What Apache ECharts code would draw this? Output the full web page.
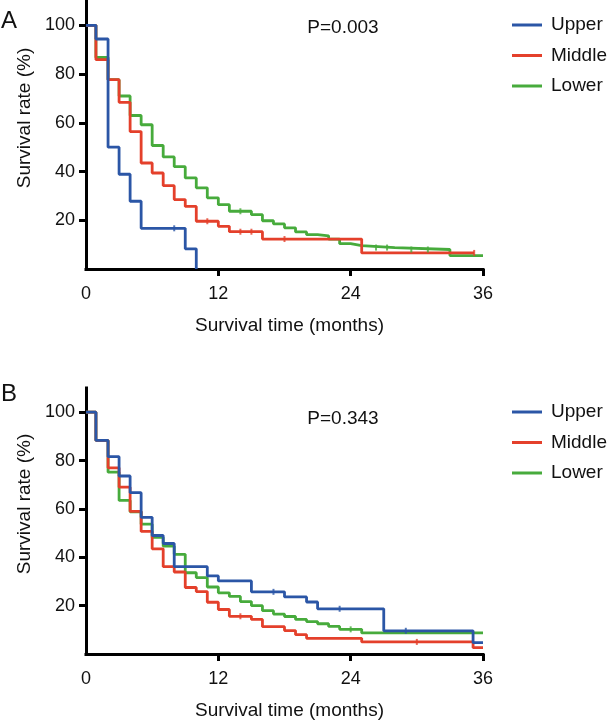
<!DOCTYPE html>
<html>
<head>
<meta charset="utf-8">
<script src="https://cdn.jsdelivr.net/npm/echarts@6/dist/echarts.min.js"></script>
<style>html,body{margin:0;padding:0;background:#fff;}#c{width:608px;height:725px;}</style>
</head>
<body>
<div id="c"></div>
<script>
// ---------- Data ----------
const groups = ['Upper', 'Middle', 'Lower'];
const colors = ['#2b56a6', '#e4402b', '#47ab3c'];
const xTicks = [12, 24, 36];
const xLabels = [0, 12, 24, 36];
const yTicks = [20, 40, 60, 80, 100];

// Panel A (time in months, survival %)
const aUpperT  = [0, 0.9, 2, 3, 4, 5, 9, 10];
const aUpperS  = [100, 94.4, 50, 38.9, 27.8, 16.7, 8.3, 0];
const aMiddleT = [0, 0.9, 2, 3, 4, 5, 6, 7, 8, 9, 10, 12, 13, 16, 25, 35.2];
const aMiddleS = [100, 85.9, 77.7, 68.4, 56.4, 43.5, 39.4, 34.2, 28.5, 25.7, 19.6, 17.5, 15.3, 12.3, 6.6, 6.6];
const aLowerT  = [0, 0.9, 2, 3, 4, 5, 6, 7, 8, 9, 10, 11, 12, 13, 15, 16, 17, 18, 19, 20, 21, 22, 23, 24, 25, 28, 33, 36];
const aLowerS  = [100, 86.8, 77.7, 71, 63, 59.2, 50.7, 46, 42, 37.4, 33.3, 29.2, 26.4, 23.7, 22.3, 19.8, 18.5, 16.9, 15.2, 14.1, 13.6, 12.3, 10.4, 9.6, 8.8, 8.0, 5.5, 5.5];
// censor marks panel A
const aUpperCT  = [8];          const aUpperCS  = [16.7];
const aMiddleCT = [11, 14, 15, 18, 35.2]; const aMiddleCS = [19.6, 15.3, 15.3, 12.3, 6.6];
const aLowerCT  = [14, 26.3, 27.3, 29.5, 31]; const aLowerCS  = [23.7, 8.8, 8.8, 8.0, 8.0];

// Panel B
const bUpperT  = [0, 0.9, 2, 3, 4, 5, 6, 7, 8, 11, 12, 15, 18, 20, 21, 27, 35.1, 36];
const bUpperS  = [100, 88.3, 81.6, 73.6, 66.7, 56.5, 49, 45.7, 36.1, 32.3, 30.2, 25.7, 23.6, 21.5, 18.7, 9.6, 4.7, 4.7];
const bMiddleT = [0, 0.9, 2, 3, 4, 5, 6, 7, 8, 9, 10, 11, 12, 13, 15, 16, 18, 19, 20, 25, 35.1, 36];
const bMiddleS = [100, 88.3, 77, 69, 59, 50.7, 43.5, 36.1, 33.9, 27.5, 25.8, 21.4, 18.4, 15.6, 14.3, 11.3, 9.7, 8, 6.5, 5, 2.6, 2.6];
const bLowerT  = [0, 0.9, 2, 3, 4, 5, 6, 7, 8, 9, 10, 11, 12, 13, 14, 15, 16, 17, 18, 19, 20, 21, 22, 23, 25, 36];
const bLowerS  = [100, 88.3, 75.2, 63.5, 58.8, 53.7, 48.2, 44.6, 41.2, 33.6, 31.6, 27.7, 25.3, 23.8, 21.7, 20, 17.9, 16.5, 15.5, 14.3, 13.4, 12.5, 11.4, 10.2, 8.7, 8.7];
const bUpperCT  = [17, 23, 29];  const bUpperCS  = [25.7, 18.7, 9.6];
const bMiddleCT = [14, 30];      const bMiddleCS = [15.6, 5];
const bLowerCT  = [24];          const bLowerCS  = [10.2];

const pTexts = ['P=0.003', 'P=0.343'];
const panelLetters = ['A', 'B'];

// ---------- Chart ----------
const FONT = "'Liberation Sans', Arial, Helvetica, sans-serif";
const zip = (t, s) => t.map((v, i) => [v, s[i]]);

const panels = [
  { curves: [[aUpperT, aUpperS], [aMiddleT, aMiddleS], [aLowerT, aLowerS]],
    cens: [[aUpperCT, aUpperCS], [aMiddleCT, aMiddleCS], [aLowerCT, aLowerCS]] },
  { curves: [[bUpperT, bUpperS], [bMiddleT, bMiddleS], [bLowerT, bLowerS]],
    cens: [[bUpperCT, bUpperCS], [bMiddleCT, bMiddleCS], [bLowerCT, bLowerCS]] }
];

const grids = [
  { left: 86, top: 1, width: 397, height: 268 },
  { left: 86, top: 388, width: 397, height: 266 }
];

const axisLineStyle = { color: '#000', width: 3, cap: 'square' };

const xAxes = grids.map((g, i) => ({
  type: 'value', gridIndex: i, min: 0, max: 36,
  name: 'Survival time (months)', nameLocation: 'middle', nameGap: 47,
  nameTextStyle: { fontFamily: FONT, fontSize: 19, color: '#111', padding: [0, 0, 0, 10] },
  axisLine: { show: true, lineStyle: axisLineStyle },
  axisTick: { show: true, length: 7, lineStyle: { color: '#000', width: 3 }, customValues: xTicks },
  axisLabel: { fontFamily: FONT, fontSize: 18, color: '#111', margin: 16, customValues: xLabels },
  splitLine: { show: false }
}));

const yAxes = grids.map((g, i) => ({
  type: 'value', gridIndex: i, min: 0, max: 110,
  name: 'Survival rate (%)', nameLocation: 'middle', nameGap: 47,
  nameTextStyle: { fontFamily: FONT, fontSize: 19, color: '#111', padding: [0, 0, 0, 34] },
  axisLine: { show: true, lineStyle: axisLineStyle },
  axisTick: { show: true, length: 7, lineStyle: { color: '#000', width: 3 }, customValues: yTicks },
  axisLabel: { fontFamily: FONT, fontSize: 18, color: '#111', margin: 11, customValues: yTicks },
  splitLine: { show: false }
}));

const series = [];
panels.forEach((p, pi) => {
  p.curves.forEach((c, gi) => {
    series.push({
      name: groups[gi], type: 'line', step: 'end', xAxisIndex: pi, yAxisIndex: pi,
      data: zip(c[0], c[1]), showSymbol: false, symbol: 'none',
      lineStyle: { color: colors[gi], width: 2.8 }, itemStyle: { color: colors[gi] },
      z: 3 - gi + 2, animation: false
    });
  });
  p.cens.forEach((c, gi) => {
    series.push({
      name: groups[gi], type: 'scatter', xAxisIndex: pi, yAxisIndex: pi,
      data: zip(c[0], c[1]), symbol: 'rect', symbolSize: [2, 6],
      itemStyle: { color: colors[gi] }, z: 6, animation: false, silent: true
    });
  });
});

const legendTops = [10, 397];
const legends = legendTops.map(t => ({
  orient: 'vertical', left: 507, top: t, itemWidth: 30, itemHeight: 3, itemGap: 10.5,
  icon: 'rect', selectedMode: false,
  data: groups.map((g, i) => ({ name: g, itemStyle: { color: colors[i] } })),
  textStyle: { fontFamily: FONT, fontSize: 19, color: '#111', lineHeight: 20, padding: [0, 0, 0, 4] }
}));

const graphic = [
  { type: 'text', left: 1, top: 9, style: { text: panelLetters[0], font: '24px ' + FONT, fill: '#111' } },
  { type: 'text', left: 1, top: 382, style: { text: panelLetters[1], font: '24px ' + FONT, fill: '#111' } },
  { type: 'text', x: 343, y: 28, style: { text: pTexts[0], font: '19px ' + FONT, fill: '#111', align: 'center', verticalAlign: 'middle' } },
  { type: 'text', x: 343, y: 419, style: { text: pTexts[1], font: '19px ' + FONT, fill: '#111', align: 'center', verticalAlign: 'middle' } }
];

const chart = echarts.init(document.getElementById('c'), null, { renderer: 'canvas' });
chart.setOption({
  animation: false,
  backgroundColor: '#fff',
  grid: grids,
  xAxis: xAxes,
  yAxis: yAxes,
  legend: legends,
  graphic: graphic,
  series: series
});
</script>
</body>
</html>
